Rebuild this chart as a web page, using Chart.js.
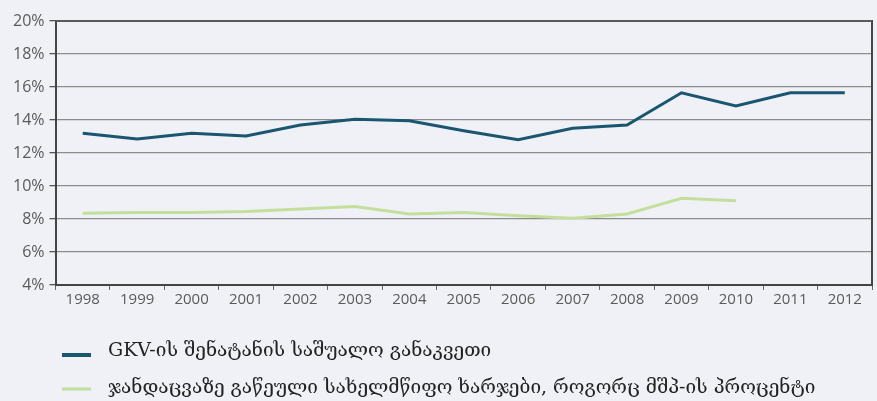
<!DOCTYPE html>
<html>
<head>
<meta charset="utf-8">
<script src="https://cdn.jsdelivr.net/npm/chart.js@4"></script>
<style>
html,body{margin:0;padding:0;background:#f0f1f7;}
canvas{display:block;}
</style>
</head>
<body>
<canvas id="c" width="877" height="401"></canvas>
<script>
const years = ['1998','1999','2000','2001','2002','2003','2004','2005','2006','2007','2008','2009','2010','2011','2012'];
const gkvRate = [13.2, 12.85, 13.2, 13.03, 13.7, 14.05, 13.95, 13.35, 12.8, 13.5, 13.7, 15.65, 14.85, 15.65, 15.65];
const healthSpend = [8.35, 8.4, 8.4, 8.45, 8.6, 8.75, 8.3, 8.4, 8.2, 8.05, 8.3, 9.25, 9.1, null, null];
const seriesNames = ['GKV-ის შენატანის საშუალო განაკვეთი', 'ჯანდაცვაზე გაწეული სახელმწიფო ხარჯები, როგორც მშპ-ის პროცენტი'];
const seriesColors = ['#1a566f', '#c4df9c'];
const yTicks = [4, 6, 8, 10, 12, 14, 16, 18, 20];

const bg = {
  id: 'bg',
  beforeDraw(chart) {
    const ctx = chart.ctx;
    ctx.save();
    ctx.fillStyle = '#f0f1f7';
    ctx.fillRect(0, 0, chart.width, chart.height);
    ctx.restore();
  }
};

const frameAndLegend = {
  id: 'frameAndLegend',
  afterDraw(chart) {
    const ctx = chart.ctx;
    const a = chart.chartArea;
    ctx.save();
    ctx.strokeStyle = '#5a5a5a';
    ctx.lineWidth = 2;
    ctx.beginPath();
    ctx.moveTo(a.left, a.top);
    ctx.lineTo(a.right, a.top);
    ctx.stroke();
    const textY = [a.bottom + 66, a.bottom + 103];
    const lineY = [a.bottom + 70, a.bottom + 104];
    const lineW = [4, 3];
    chart.data.datasets.forEach((ds, i) => {
      ctx.strokeStyle = ds.borderColor;
      ctx.lineWidth = lineW[i];
      ctx.beginPath();
      ctx.moveTo(62, lineY[i]);
      ctx.lineTo(91, lineY[i]);
      ctx.stroke();
      ctx.fillStyle = '#222';
      ctx.font = '19px "DejaVu Serif"';
      ctx.textBaseline = 'middle';
      ctx.textAlign = 'left';
      ctx.fillText(ds.label, 108, textY[i]);
    });
    ctx.restore();
  }
};

new Chart(document.getElementById('c'), {
  type: 'line',
  data: {
    labels: years,
    datasets: [
      { label: seriesNames[0], data: gkvRate, borderColor: seriesColors[0], backgroundColor: seriesColors[0], borderWidth: 3, pointRadius: 0, tension: 0 },
      { label: seriesNames[1], data: healthSpend, borderColor: seriesColors[1], backgroundColor: seriesColors[1], borderWidth: 3, pointRadius: 0, tension: 0 }
    ]
  },
  options: {
    responsive: false,
    animation: false,
    layout: { padding: { left: 8, right: 5, top: 21, bottom: 91 } },
    plugins: {
      tooltip: { enabled: false },
      legend: { display: false }
    },
    scales: {
      x: {
        offset: true,
        grid: { drawOnChartArea: false, drawTicks: true, tickLength: 5, color: '#666', offset: true },
        border: { color: '#444', width: 2 },
        ticks: { color: '#5a5a5a', font: { family: 'Open Sans', size: 15 }, maxRotation: 0, padding: 1 }
      },
      y: {
        min: 4, max: 20,
        afterBuildTicks(axis) { axis.ticks = yTicks.map(v => ({ value: v })); },
        grid: { color: '#8c8c8c', lineWidth: 1.3, tickLength: 6, tickColor: '#555' },
        border: { color: '#444', width: 2 },
        ticks: { color: '#5a5a5a', font: { family: 'Open Sans', size: 16 }, padding: 5, callback: v => v + '%' }
      },
      y2: {
        position: 'right',
        min: 4, max: 20,
        grid: { drawOnChartArea: false, drawTicks: false },
        border: { color: '#444', width: 2 },
        ticks: { display: false }
      }
    }
  },
  plugins: [bg, frameAndLegend]
});
</script>
</body>
</html>
